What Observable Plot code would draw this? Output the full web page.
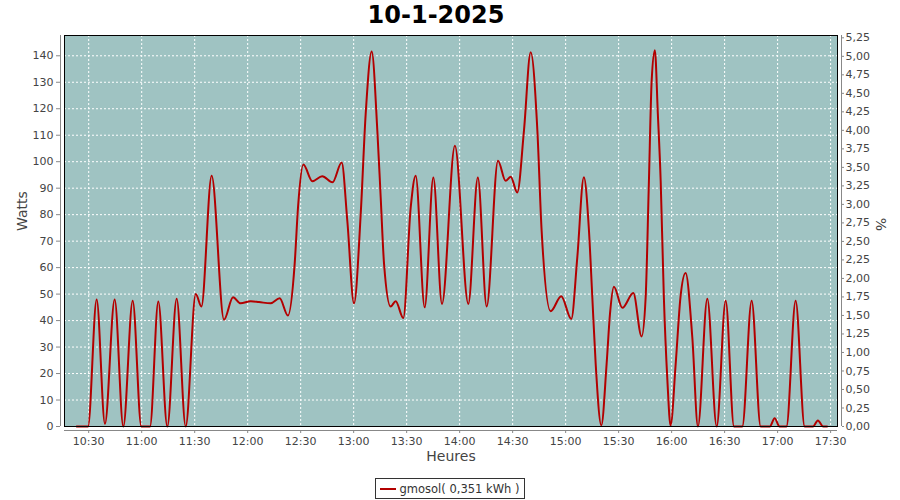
<!DOCTYPE html>
<html>
<head>
<meta charset="utf-8">
<script src="https://cdn.jsdelivr.net/npm/d3@7"></script>
<script src="https://cdn.jsdelivr.net/npm/@observablehq/plot@0.6"></script>
<style>
  body { margin: 0; background: #fff; font-family: "DejaVu Sans", sans-serif; width: 900px; height: 500px; overflow: hidden; }
  #title { height: 30px; line-height: 30px; text-align: center; font-weight: bold; font-size: 24px; color: #000; padding-right: 28px; }
  #chart { height: 448px; }
  #legend { height: 22px; display: flex; justify-content: center; align-items: flex-start; }
  #legend .box { display: inline-flex; align-items: center; border: 1px solid #333; height: 19px; padding: 0 5px 0 4px; font-size: 11.5px; color: #333; }
  #legend .swatch { width: 16px; height: 2px; background: #b30000; margin-right: 4px; }
</style>
</head>
<body>
<div id="title">10-1-2025</div>
<div id="chart"></div>
<div id="legend"><div class="box"><span class="swatch"></span><span>gmosol( 0,351 kWh )</span></div></div>
<script>
// Time in minutes since midnight, power in watts
const times = [623.2, 629.6, 634.5, 639.2, 644.7, 649.6, 654.9, 659.8, 664.7, 669.4, 674.5, 679.8, 684.9,
  690.6, 693.8, 699.6, 706.6, 711.7, 716, 721.7, 726.4, 733, 738.1, 742.8, 746.6, 748.5, 751.5, 756.6,
  762.2, 768, 773.2, 776.4, 780.2, 784, 786.8, 790.2, 793.4, 795.3, 797.2, 800.9, 803.8, 808.1, 812.3,
  815.1, 820.2, 825.1, 830, 837.3, 844.9, 850.3, 855.3, 861.7, 866, 868.9, 872.6, 876.4, 880.2, 884,
  886.4, 891.5, 897.5, 903.2, 906.6, 910.3, 913.2, 915.1, 917, 920.2, 923.2, 925.1, 927.3, 932.1, 938.3,
  943, 945.3, 947.1, 948.7, 950.5, 952.2, 953.8, 955.6, 957.6, 959.4, 962.3, 965, 967.9, 971.7, 974.9,
  980.2, 985.5, 990.6, 995.3, 1000, 1005.3, 1010.4, 1015.6, 1018.3, 1021.1, 1025, 1030.2, 1035.3, 1040,
  1042.8, 1045.8, 1048];
const watts = [0, 0, 48, 1, 48, 0, 47.5, 0, 0, 47.2, 0, 48.2, 0,
  50, 45.3, 94.7, 40.3, 48.8, 46.5, 47.3, 47, 46.5, 48.4, 41.9, 61.4, 82.8, 98.9, 92.6,
  94.5, 92.2, 99.7, 77.7, 46.5, 80.4, 118, 141.6, 111.7, 86.5, 61.4, 45.3, 47.3, 41, 82.8,
  94.7, 45, 94, 46.3, 106, 46.3, 94, 45.3, 100.4, 92.8, 94.3, 88.4, 111.7, 141.3, 111.7,
  74, 43.5, 49.2, 40.6, 63.9, 94.1, 74, 48.8, 23.7, 0.4, 23.7, 42.5, 52.8, 44.8, 50.4,
  34, 48.8, 91.6, 130.6, 142.1, 118, 92.8, 48.8, 17.4, 0.4, 23.7, 48.8, 58, 33.7, 0,
  48.2, 0, 47.5, 0, 0, 47.5, 0, 0, 3.1, 0, 0, 47.5, 0, 0,
  2.3, 0, 0];
const xTickLabels = ["10:30", "11:00", "11:30", "12:00", "12:30", "13:00", "13:30", "14:00", "14:30",
  "15:00", "15:30", "16:00", "16:30", "17:00", "17:30"];
const wattTicks = [0, 10, 20, 30, 40, 50, 60, 70, 80, 90, 100, 110, 120, 130, 140];
const pctTicks = [0, 0.25, 0.5, 0.75, 1, 1.25, 1.5, 1.75, 2, 2.25, 2.5, 2.75, 3, 3.25, 3.5, 3.75, 4,
  4.25, 4.5, 4.75, 5, 5.25];

const K = 27.96; // watts per percent on the right axis
const data = times.map((t, i) => ({t, w: watts[i]}));
const toMin = s => { const [h, m] = s.split(":").map(Number); return h * 60 + m; };
const xTicks = xTickLabels.map(toMin);
const fmtTime = m => `${Math.floor(m / 60)}:${String(Math.round(m % 60)).padStart(2, "0")}`;
const xDomain = [616.3, 1053.9];

const chart = Plot.plot({
  width: 900,
  height: 448,
  marginTop: 5,
  marginBottom: 52,
  marginLeft: 64,
  marginRight: 63,
  style: {fontFamily: "DejaVu Sans, sans-serif", fontSize: "11px", color: "#444", background: "transparent"},
  x: {domain: xDomain, axis: null},
  y: {domain: [0, 147.66], axis: null},
  marks: [
    Plot.frame({fill: "#9fc3c2"}),
    Plot.gridX(xTicks, {stroke: "white", strokeOpacity: 1, strokeDasharray: "2,2"}),
    Plot.gridY(wattTicks, {stroke: "white", strokeOpacity: 1, strokeDasharray: "2,2"}),
    Plot.line(data, {x: "t", y: "w", curve: "monotone-x", stroke: "#b30000", strokeWidth: 2}),
    Plot.frame({stroke: "black"}),
    Plot.ruleX([xDomain[0]], {dx: -4, stroke: "#888"}),
    Plot.ruleX([xDomain[1]], {dx: 4, stroke: "#888"}),
    Plot.ruleY([0], {dy: 4, stroke: "#888"}),
    Plot.axisX(xTicks, {anchor: "bottom", label: null, dy: 4, tickSize: 3, tickPadding: 4, tickFormat: fmtTime, stroke: "#888", fill: "#444"}),
    Plot.axisY(wattTicks, {anchor: "left", label: null, dx: -4, tickSize: 4, tickPadding: 3, stroke: "#888", fill: "#444"}),
    Plot.axisY(pctTicks.map(p => p * K), {anchor: "right", label: null, dx: 4, tickSize: 2, tickPadding: 2, stroke: "#888", fill: "#444",
      tickFormat: d => (d / K).toFixed(2).replace(".", ",")}),
    Plot.text(["Heures"], {frameAnchor: "bottom", dy: 34, fontSize: 14, fill: "#444"}),
    Plot.text(["Watts"], {frameAnchor: "left", dx: -42, rotate: -90, fontSize: 14, fill: "#444"}),
    Plot.text(["%"], {frameAnchor: "right", dx: 43, rotate: 90, fontSize: 14, fill: "#444"})
  ]
});
document.getElementById("chart").appendChild(chart);
</script>
</body>
</html>
